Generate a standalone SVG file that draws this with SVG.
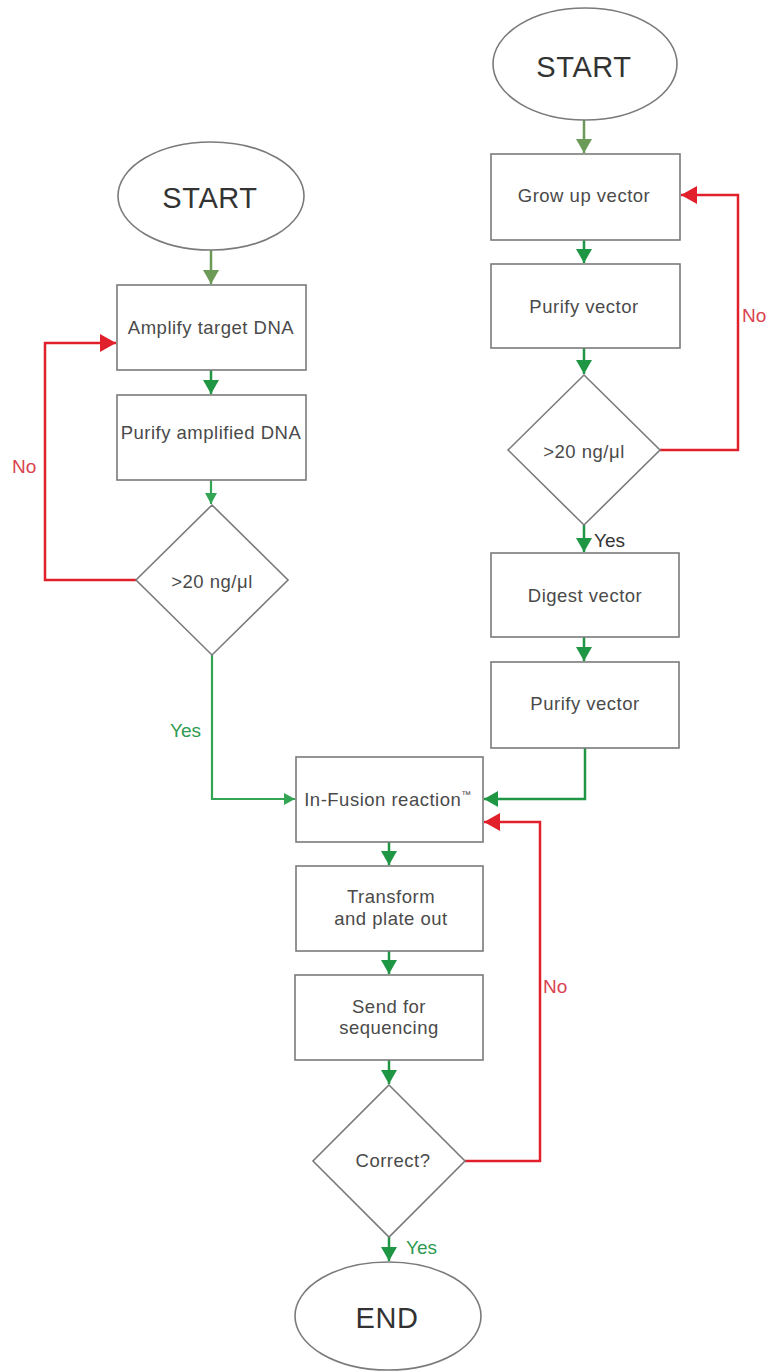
<svg xmlns="http://www.w3.org/2000/svg" width="776" height="1371" viewBox="0 0 776 1371">
<style>
.box{fill:#fff;stroke:#7a7a7a;stroke-width:1.6}
.t{font-family:"Liberation Sans",Arial,sans-serif;font-size:18.5px;letter-spacing:0.5px;fill:#4a4a4a;text-anchor:middle}
.big{font-family:"Liberation Sans",Arial,sans-serif;font-size:29px;letter-spacing:0.6px;fill:#333;text-anchor:middle}
.lbl{font-family:"Liberation Sans",Arial,sans-serif;font-size:19px}
.g{fill:none;stroke:#1e9644;stroke-width:2.5}
.o{fill:none;stroke:#6a9a55;stroke-width:2.5}
.lg{fill:none;stroke:#34a455;stroke-width:2.2}
.r{fill:none;stroke:#e2202c;stroke-width:2.5}
</style>
<defs>
<marker id="ag" markerUnits="userSpaceOnUse" markerWidth="16" markerHeight="16" refX="14" refY="8" orient="auto"><path d="M0,0 L14,8 L0,16 z" fill="#1e9644"/></marker>
<marker id="ao" markerUnits="userSpaceOnUse" markerWidth="16" markerHeight="16" refX="14" refY="8" orient="auto"><path d="M0,0 L14,8 L0,16 z" fill="#6a9a55"/></marker>
<marker id="asg" markerUnits="userSpaceOnUse" markerWidth="12" markerHeight="12" refX="11" refY="6" orient="auto"><path d="M0,0 L11,6 L0,12 z" fill="#34a455"/></marker>
<marker id="ar" markerUnits="userSpaceOnUse" markerWidth="18" markerHeight="18" refX="16" refY="9" orient="auto"><path d="M0,0 L16,9 L0,18 z" fill="#e2202c"/></marker>
</defs>

<g id="connectors">
<path class="o" d="M211,250 V284" marker-end="url(#ao)"/>
<path class="g" d="M211,370 V394" marker-end="url(#ag)"/>
<path class="lg" d="M211,480 V504" marker-end="url(#asg)"/>
<path class="r" d="M136,580 H45 V343 H116" marker-end="url(#ar)"/>
<path class="lg" d="M212,655 V799 H295" marker-end="url(#asg)"/>
<path class="o" d="M584,120 V153" marker-end="url(#ao)"/>
<path class="g" d="M584,240 V263" marker-end="url(#ag)"/>
<path class="g" d="M584,348 V374" marker-end="url(#ag)"/>
<path class="r" d="M660,450 H738 V195 H681" marker-end="url(#ar)"/>
<path class="g" d="M584,525 V552" marker-end="url(#ag)"/>
<path class="g" d="M584,637 V661" marker-end="url(#ag)"/>
<path class="g" d="M585,748 V799 H484" marker-end="url(#ag)"/>
<path class="g" d="M389,842 V865" marker-end="url(#ag)"/>
<path class="g" d="M389,951 V974" marker-end="url(#ag)"/>
<path class="g" d="M389,1060 V1084" marker-end="url(#ag)"/>
<path class="r" d="M465,1161 H540 V822 H484" marker-end="url(#ar)"/>
<path class="g" d="M389,1237 V1261" marker-end="url(#ag)"/>
<text class="lbl" x="12" y="473" fill="#d9434f">No</text>
<text class="lbl" x="742" y="322" fill="#d9434f">No</text>
<text class="lbl" x="543" y="993" fill="#d9434f">No</text>
<text class="lbl" x="170" y="737" fill="#2e9a52">Yes</text>
<text class="lbl" x="594" y="547" fill="#333">Yes</text>
<text class="lbl" x="406" y="1254" fill="#2e9a52">Yes</text>
</g>

<g id="start-left"><ellipse class="box" cx="211" cy="196" rx="93" ry="54"/><text class="big" x="210" y="208">START</text></g>
<g id="amplify"><rect class="box" x="117" y="285" width="189" height="85"/><text class="t" x="211" y="334">Amplify target DNA</text></g>
<g id="purify-amplified"><rect class="box" x="117" y="395" width="189" height="85"/><text class="t" x="211" y="439">Purify amplified DNA</text></g>
<g id="check-left"><polygon class="box" points="212,505 288,580 212,655 136,580"/><text class="t" x="212" y="588">&gt;20 ng/μl</text></g>

<g id="start-right"><ellipse class="box" cx="585" cy="64" rx="92" ry="56"/><text class="big" x="584" y="77">START</text></g>
<g id="grow"><rect class="box" x="491" y="154" width="189" height="86"/><text class="t" x="584" y="202">Grow up vector</text></g>
<g id="purify-vector-1"><rect class="box" x="491" y="264" width="189" height="84"/><text class="t" x="584" y="313">Purify vector</text></g>
<g id="check-right"><polygon class="box" points="584,375 660,450 584,525 508,450"/><text class="t" x="584" y="458">&gt;20 ng/μl</text></g>
<g id="digest"><rect class="box" x="491" y="553" width="188" height="84"/><text class="t" x="585" y="602">Digest vector</text></g>
<g id="purify-vector-2"><rect class="box" x="491" y="662" width="188" height="86"/><text class="t" x="585" y="710">Purify vector</text></g>

<g id="infusion"><rect class="box" x="296" y="757" width="187" height="85"/><text class="t" x="388" y="806">In-Fusion reaction<tspan font-size="10" dy="-8">™</tspan></text></g>
<g id="transform"><rect class="box" x="296" y="866" width="187" height="85"/><text class="t" x="391" y="903">Transform</text><text class="t" x="391" y="925">and plate out</text></g>
<g id="send"><rect class="box" x="295" y="975" width="188" height="85"/><text class="t" x="389" y="1013">Send for</text><text class="t" x="389" y="1034">sequencing</text></g>
<g id="correct"><polygon class="box" points="389,1085 465,1161 389,1237 313,1161"/><text class="t" x="393" y="1167">Correct?</text></g>
<g id="end"><ellipse class="box" cx="388" cy="1316" rx="93" ry="54"/><text class="big" x="387" y="1328">END</text></g>
</svg>
